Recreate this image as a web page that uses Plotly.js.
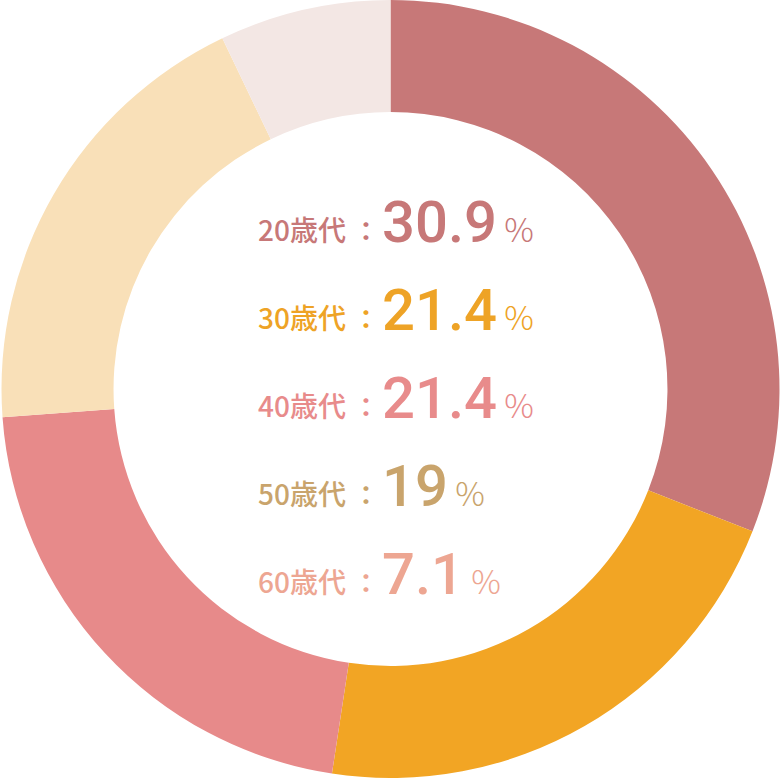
<!DOCTYPE html>
<html>
<head>
<meta charset="utf-8">
<script src="https://cdn.plot.ly/plotly-3.0.1.min.js"></script>
<style>
  html, body { margin: 0; padding: 0; background: #fff; }
  #age-graph { width: 783px; height: 782px; }
</style>
</head>
<body>
<div id="age-graph"></div>
<script>
const ages = ['20歳代', '30歳代', '40歳代', '50歳代', '60歳代']
const shares = [30.9, 21.4, 21.4, 19, 7.1]
const sliceColors = ['#c77878', '#f2a524', '#e78a8a', '#f9e0b8', '#f3e7e4']
const textColors = ['#c77878', '#eea326', '#e88b8b', '#c9a46c', '#eda692']

/**
 * Draws the age breakdown donut with the legend text in the hole.
 */
function ageGraph () {
  var data = [{
    values: shares,
    labels: ages,
    type: 'pie',
    hole: 0.712,
    sort: false,
    direction: 'clockwise',
    rotation: 0,
    textinfo: 'none',
    hoverinfo: 'label+value',
    marker: { colors: sliceColors, line: { width: 0 } },
    domain: { x: [0, 781 / 783], y: [4 / 782, 1] }
  }]

  const fam = '"Noto Sans CJK JP", "Noto Sans", sans-serif'
  var annotations = []
  // three pieces per row: age label, colon, then the share with a small %
  ages.forEach(function (age, i) {
    const yc = 1 - (226 + i * 88) / 782
    const base = { xref: 'paper', yref: 'paper', y: yc, yanchor: 'middle', showarrow: false }
    annotations.push(Object.assign({}, base, {
      x: 256 / 783,
      xanchor: 'left',
      y: yc - 3 / 782,
      text: age,
      font: { family: fam, color: textColors[i], size: 28, weight: 500 }
    }))
    annotations.push(Object.assign({}, base, {
      x: 366 / 783,
      xanchor: 'center',
      y: yc - 3 / 782,
      text: '：',
      font: { family: fam, color: textColors[i], size: 26, weight: 700 }
    }))
    annotations.push(Object.assign({}, base, {
      x: 380 / 783,
      xanchor: 'left',
      y: yc + 4 / 782,
      text: shares[i] +
        '<span style="font-family:\'Noto Sans CJK JP\';font-size:33px;font-weight:300"> %</span>',
      font: { family: 'Roboto, sans-serif', color: textColors[i], size: 58, weight: 500 }
    }))
  })

  var layout = {
    width: 783,
    height: 782,
    margin: { l: 0, r: 0, t: 0, b: 0 },
    showlegend: false,
    paper_bgcolor: '#ffffff',
    annotations: annotations
  }

  Plotly.newPlot('age-graph', data, layout, { displayModeBar: false })
}

ageGraph()
</script>
</body>
</html>
